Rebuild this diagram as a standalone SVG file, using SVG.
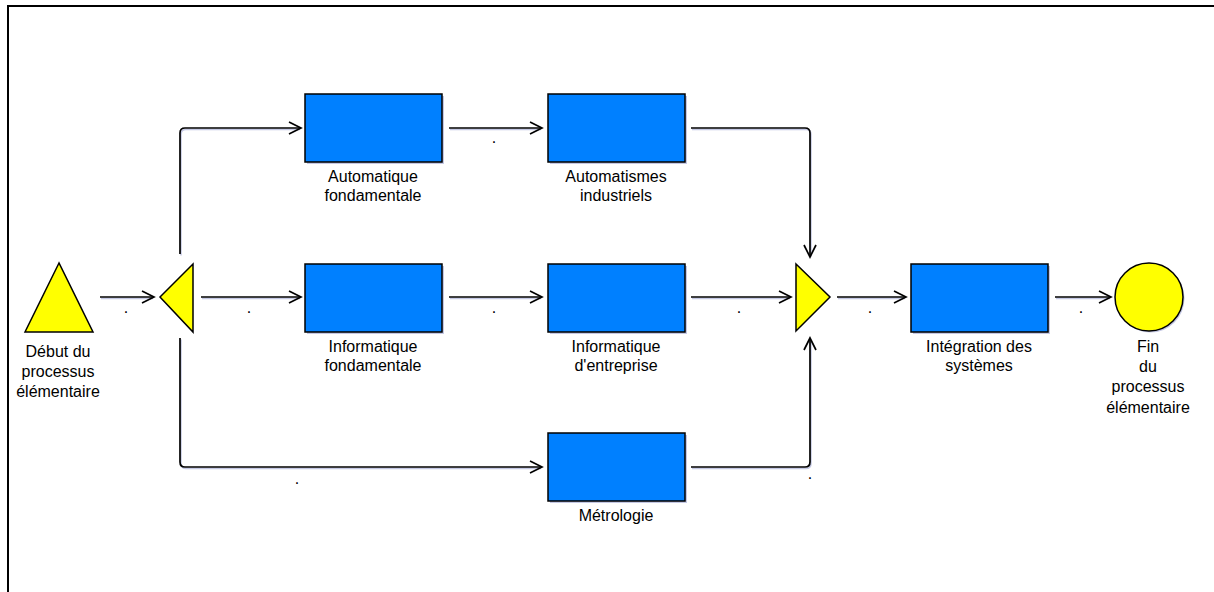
<svg xmlns="http://www.w3.org/2000/svg" width="1214" height="592" viewBox="0 0 1214 592">
<defs>
<style>
.box{fill:#0080ff;stroke:#000;stroke-width:1.5}
.sh{fill:#c4c8e4}
.yel{fill:#ffff00;stroke:#000;stroke-width:1.5;stroke-linejoin:miter}
.con{fill:none;stroke:#000;stroke-width:1.7}
.lsh{fill:none;stroke:#c4c8e4;stroke-width:1.5}
text{font-family:"Liberation Sans",Arial,sans-serif;font-size:16px;fill:#000;text-anchor:middle}
</style>
<marker id="ah" markerUnits="userSpaceOnUse" markerWidth="16" markerHeight="16" refX="13" refY="7" orient="auto">
<path d="M1,1 L13,7 L1,13" fill="none" stroke="#000" stroke-width="1.7"/>
</marker>
</defs>
<rect width="1214" height="592" fill="#fff"/>
<path d="M8,592 V6 H1214" fill="none" stroke="#000" stroke-width="2"/>

<g id="connectors">
<g transform="translate(1,1.5)">
<path class="lsh" d="M100,297 H152"/>
<path class="lsh" d="M180,254 V133 Q180,128 185,128 H299"/>
<path class="lsh" d="M201,297 H299"/>
<path class="lsh" d="M180,338 V462 Q180,467 185,467 H540"/>
<path class="lsh" d="M449,128 H540"/>
<path class="lsh" d="M449,297 H540"/>
<path class="lsh" d="M691,128 H805 Q810,128 810,133 V255"/>
<path class="lsh" d="M691,297 H789"/>
<path class="lsh" d="M691,467 H805 Q810,467 810,462 V340"/>
<path class="lsh" d="M837,297 H904"/>
<path class="lsh" d="M1055,297 H1109"/>
</g>
<path class="con" marker-end="url(#ah)" d="M100,297 H154"/>
<path class="con" marker-end="url(#ah)" d="M180,254 V133 Q180,128 185,128 H301"/>
<path class="con" marker-end="url(#ah)" d="M201,297 H301"/>
<path class="con" marker-end="url(#ah)" d="M180,338 V462 Q180,467 185,467 H542"/>
<path class="con" marker-end="url(#ah)" d="M449,128 H542"/>
<path class="con" marker-end="url(#ah)" d="M449,297 H542"/>
<path class="con" marker-end="url(#ah)" d="M691,128 H805 Q810,128 810,133 V257"/>
<path class="con" marker-end="url(#ah)" d="M691,297 H791"/>
<path class="con" marker-end="url(#ah)" d="M691,467 H805 Q810,467 810,462 V338"/>
<path class="con" marker-end="url(#ah)" d="M837,297 H906"/>
<path class="con" marker-end="url(#ah)" d="M1055,297 H1111"/>
<text x="126" y="313">.</text>
<text x="249" y="313">.</text>
<text x="494" y="143">.</text>
<text x="494" y="313">.</text>
<text x="739" y="313">.</text>
<text x="870" y="313">.</text>
<text x="1081" y="313">.</text>
<text x="297" y="484">.</text>
<text x="810" y="479">.</text>
</g>

<g id="start">
<polygon class="yel" points="59,263 25,332 93,332"/>
<text x="58" y="357">Début du</text>
<text x="58" y="377">processus</text>
<text x="58" y="397">élémentaire</text>
</g>

<g id="split">
<polygon class="yel" points="160,297 193,264 193,332"/>
</g>

<g id="auto-fond">
<rect class="sh" x="307" y="96" width="137" height="68"/>
<rect class="box" x="305" y="94" width="137" height="68"/>
<text x="373" y="182">Automatique</text>
<text x="373" y="201">fondamentale</text>
</g>

<g id="auto-indus">
<rect class="sh" x="550" y="96" width="137" height="68"/>
<rect class="box" x="548" y="94" width="137" height="68"/>
<text x="616" y="182">Automatismes</text>
<text x="616" y="201">industriels</text>
</g>

<g id="info-fond">
<rect class="sh" x="307" y="266" width="137" height="68"/>
<rect class="box" x="305" y="264" width="137" height="68"/>
<text x="373" y="352">Informatique</text>
<text x="373" y="371">fondamentale</text>
</g>

<g id="info-entr">
<rect class="sh" x="550" y="266" width="137" height="68"/>
<rect class="box" x="548" y="264" width="137" height="68"/>
<text x="616" y="352">Informatique</text>
<text x="616" y="371">d'entreprise</text>
</g>

<g id="metrologie">
<rect class="sh" x="550" y="435" width="137" height="68"/>
<rect class="box" x="548" y="433" width="137" height="68"/>
<text x="616" y="521">Métrologie</text>
</g>

<g id="join">
<polygon class="yel" points="796,264 830,297 796,331"/>
</g>

<g id="integration">
<rect class="sh" x="913" y="266" width="137" height="68"/>
<rect class="box" x="911" y="264" width="137" height="68"/>
<text x="979" y="352">Intégration des</text>
<text x="979" y="371">systèmes</text>
</g>

<g id="fin">
<circle cx="1149" cy="297" r="34" fill="#c4c8e4" transform="translate(1.5,1.5)"/>
<circle class="yel" cx="1149" cy="297" r="34"/>
<text x="1148" y="352">Fin</text>
<text x="1148" y="372">du</text>
<text x="1148" y="392">processus</text>
<text x="1148" y="413">élémentaire</text>
</g>
</svg>
